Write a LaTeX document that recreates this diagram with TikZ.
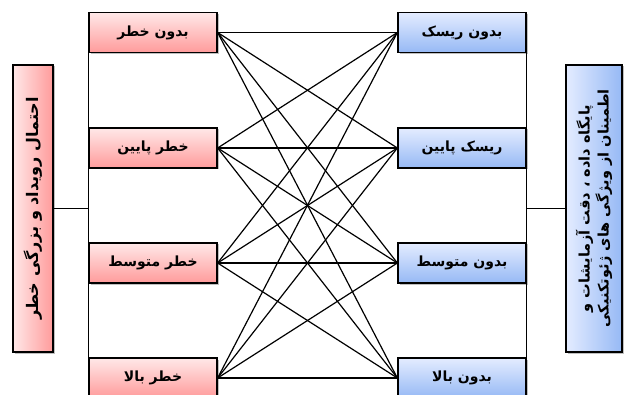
\documentclass[tikz,border=0pt]{standalone}
\usepackage{fontspec}
\TeXXeTstate=1
\newfontfamily\arabicfont[Script=Arabic]{DejaVu Sans}
\usetikzlibrary{shadows}
\definecolor{redtop}{RGB}{255,232,232}
\definecolor{redbot}{RGB}{255,155,155}
\definecolor{bluetop}{RGB}{228,236,255}
\definecolor{bluebot}{RGB}{150,185,245}
\tikzset{
  x=1pt,y=1pt,
  boxbase/.style={draw=black, line width=1.3pt, rectangle, inner sep=0pt,
    font=\arabicfont\bfseries\fontsize{14}{16}\selectfont,
    drop shadow={shadow xshift=1.5pt, shadow yshift=-1.5pt, fill=black!50, opacity=0.5}},
  redbox/.style={boxbase, minimum width=128pt, minimum height=40pt,
    top color=redtop, bottom color=redbot},
  bluebox/.style={boxbase, minimum width=128pt, minimum height=40pt,
    top color=bluetop, bottom color=bluebot},
  tallred/.style={boxbase, minimum width=40pt, minimum height=287pt,
    left color=redtop, right color=redbot},
  tallblue/.style={boxbase, minimum width=56pt, minimum height=287pt,
    left color=bluetop, right color=bluebot},
  tallText/.style={rotate=90, inner sep=0pt, align=center,
    font=\arabicfont\bfseries\fontsize{16}{20}\selectfont},
  tallTextB/.style={rotate=90, inner sep=0pt, align=center,
    font=\arabicfont\bfseries\fontsize{14.5}{19}\selectfont},
  link/.style={line width=1.2pt, draw=black},
}
\begin{document}
\begin{tikzpicture}
\useasboundingbox (0,0) rectangle (624,394);
% left column
\node[redbox] (l1) at (153,361.5) {\beginR بدون خطر\endR};
\node[redbox] (l2) at (153,246) {\beginR خطر پایین\endR};
\node[redbox] (l3) at (153,131) {\beginR خطر متوسط\endR};
\node[redbox] (l4) at (153,16) {\beginR خطر بالا\endR};
% right column
\node[bluebox] (r1) at (462,361.5) {\beginR بدون ریسک\endR};
\node[bluebox] (r2) at (462,246) {\beginR ریسک پایین\endR};
\node[bluebox] (r3) at (462,131) {\beginR بدون متوسط\endR};
\node[bluebox] (r4) at (462,16) {\beginR بدون بالا\endR};
% tall boxes
\node[tallred] (L) at (33,185.5) {};
\node[tallText] (Lt) at (L) {\beginR احتمال رویداد و بزرگی خطر\endR};
\node[tallblue] (R) at (594,185.5) {};
\node[tallTextB] (Rt) at (R) {\beginR پایگاه داده ، دقت آزمایشات و\endR\\\beginR اطمینان از ویژگی های ژئوتکنیکی\endR};
% side connectors
\draw[link] (l1.south west) -- (l4.north west);
\draw[link] (L.east) -- (L.east -| l1.west);
\draw[link] (r1.south east) -- (r4.north east);
\draw[link] (R.west) -- (R.west -| r1.east);
% full bipartite links
\foreach \i in {1,2,3,4}{
  \foreach \j in {1,2,3,4}{
    \draw[link] (l\i.east) -- (r\j.west);
  }
}
\end{tikzpicture}
\end{document}
